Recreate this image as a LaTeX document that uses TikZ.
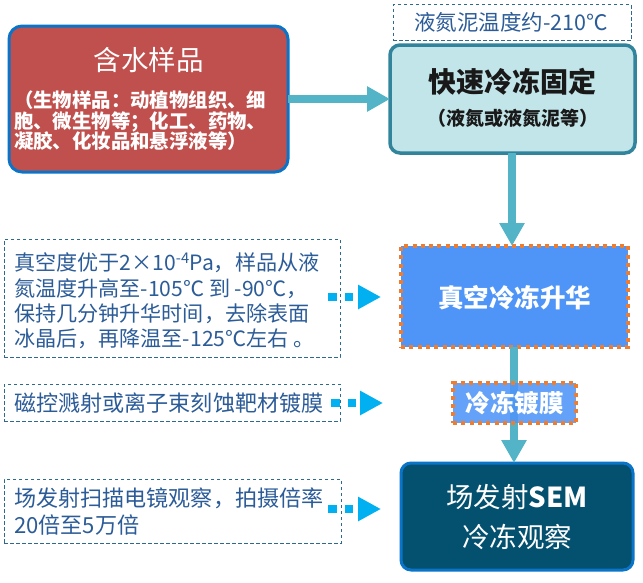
\documentclass[tikz,border=0pt]{standalone}
\usepackage{fontspec}
\setmainfont{Noto Sans CJK SC}
\usetikzlibrary{arrows.meta}
\definecolor{redfill}{HTML}{C0504D}
\definecolor{bluebord}{HTML}{0A74C8}
\definecolor{tealarrow}{HTML}{52B4C6}
\definecolor{cyanfill}{HTML}{C2E5EA}
\definecolor{cyanbord}{HTML}{31849B}
\definecolor{vacfill}{HTML}{4F95F8}
\definecolor{orangedot}{HTML}{ED7D31}
\definecolor{semfill}{HTML}{03506F}
\definecolor{dashbord}{HTML}{2E6A8E}
\definecolor{notetext}{HTML}{2C5C98}
\definecolor{dotarrowc}{HTML}{00B0F0}
\tikzset{
  x=1pt, y=-1pt,
  box/.style={inner sep=0pt, outer sep=0pt},
  redbox/.style={box, fill=redfill, draw=bluebord, line width=3pt, rounded corners=13pt},
  cyanbox/.style={box, fill=cyanfill, draw=cyanbord, line width=3.5pt, rounded corners=10pt},
  vacbox/.style={box, fill=vacfill, draw=orangedot, line width=4pt, dash pattern=on 4pt off 4.3pt},
  sembox/.style={box, fill=semfill, draw=bluebord, line width=3pt, rounded corners=10pt},
  notebox/.style={box, draw=dashbord, line width=1pt, dash pattern=on 3.5pt off 2.5pt},
  notetxt/.style={inner sep=0pt, text=notetext, align=left},
  flowarrow/.style={draw=tealarrow, line width=8pt, -{Triangle[length=23pt, width=24pt]}},
  dotarrow/.style={draw=dotarrowc, line width=8.5pt, dash pattern=on 8.5pt off 8pt, -{Triangle[length=23pt, width=23pt]}}
}
\begin{document}
\begin{tikzpicture}
\fill[white] (0,0) rectangle (643,582);
\useasboundingbox (0,0) rectangle (643,582);

% main boxes
\node[redbox, minimum width=279pt, minimum height=146pt] (sample) at (148.5,99) {};
\node[inner sep=0pt, text=white, font=\fontsize{27.5}{30}\selectfont] (sampleT) at (148.5,60) {含水样品};
\node[inner sep=0pt, text=white, align=left, anchor=west, font=\fontsize{19.4}{20.5}\selectfont\bfseries] (sampleS) at (14,121) {（生物样品：动植物组织、细\\胞、微生物等；化工、药物、\\凝胶、化妆品和悬浮液等）};

\node[notebox, minimum width=238pt, minimum height=36pt] (temp) at (512,22.5) {};
\node[notetxt, font=\fontsize{21.5}{24}\selectfont] (tempT) at (511,22.5) {液氮泥温度约-210℃};

\node[cyanbox, minimum width=245pt, minimum height=108pt] (freeze) at (512.5,99) {};
\node[inner sep=0pt, text=black!90, font=\fontsize{28}{30}\selectfont\bfseries] (freezeT) at (512.5,82) {快速冷冻固定};
\node[inner sep=0pt, text=black!90, font=\fontsize{19}{22}\selectfont\bfseries] (freezeS) at (513,118) {（液氮或液氮泥等）};

\node[vacbox, minimum width=227pt, minimum height=101pt] (vac) at (514.5,296.5) {};
\node[inner sep=0pt, text=white, font=\fontsize{25.5}{28}\selectfont\bfseries] (vacT) at (514.5,298) {真空冷冻升华};

\node[sembox, minimum width=232pt, minimum height=107pt] (sem) at (517,516.5) {};
\node[inner sep=0pt, text=white, align=center, font=\fontsize{27.5}{40}\selectfont] (semT) at (517,517) {场发射\textbf{SEM}\\冷冻观察};

% note boxes
\node[notebox, minimum width=336pt, minimum height=118pt] (n1) at (172,298) {};
\node[notetxt, anchor=west, font=\fontsize{21.1}{25.3}\selectfont] (n1T) at (14,301) {真空度优于2×10\textsuperscript{-4}Pa，样品从液\\氮温度升高至-105℃ 到 -90℃，\\保持几分钟升华时间，去除表面\\冰晶后，再降温至-125℃左右 。};

\node[notebox, minimum width=336pt, minimum height=37pt] (n2) at (172,402.5) {};
\node[notetxt, anchor=west, font=\fontsize{22.1}{25}\selectfont] (n2T) at (14,403) {磁控溅射或离子束刻蚀靶材镀膜};

\node[notebox, minimum width=337pt, minimum height=64pt] (n3) at (172.5,511) {};
\node[notetxt, anchor=west, font=\fontsize{22.1}{27}\selectfont] (n3T) at (14,512) {场发射扫描电镜观察，拍摄倍率\\20倍至5万倍};

% flow arrows
\draw[flowarrow] (sample.east |- 0,99) -- (freeze.west |- 0,99);
\draw[flowarrow] (freeze.south -| 0,0) ++(512,0) coordinate (fs) -- (fs |- vac.north);
\coordinate (vs) at (vac.south -| 514,0);
\draw[flowarrow] (vs) -- (vs |- sem.north);

% coating box over the line
\node[vacbox, fill opacity=0.88, text opacity=1, minimum width=123pt, minimum height=40pt] (coat) at (514.5,403) {};
\node[inner sep=0pt, text=white, font=\fontsize{24.5}{26}\selectfont\bfseries] (coatT) at (514.5,403) {冷冻镀膜};

% dotted arrows
\coordinate (t1) at (381,297);
\coordinate (t2) at (383,403);
\coordinate (t3) at (381,509);
\draw[dotarrow] ([xshift=-12pt]n1.east |- t1) -- (t1);
\draw[dotarrow] ([xshift=-9pt]n2.east |- t2) -- (t2);
\draw[dotarrow] ([xshift=-13pt]n3.east |- t3) -- (t3);
\end{tikzpicture}
\end{document}
